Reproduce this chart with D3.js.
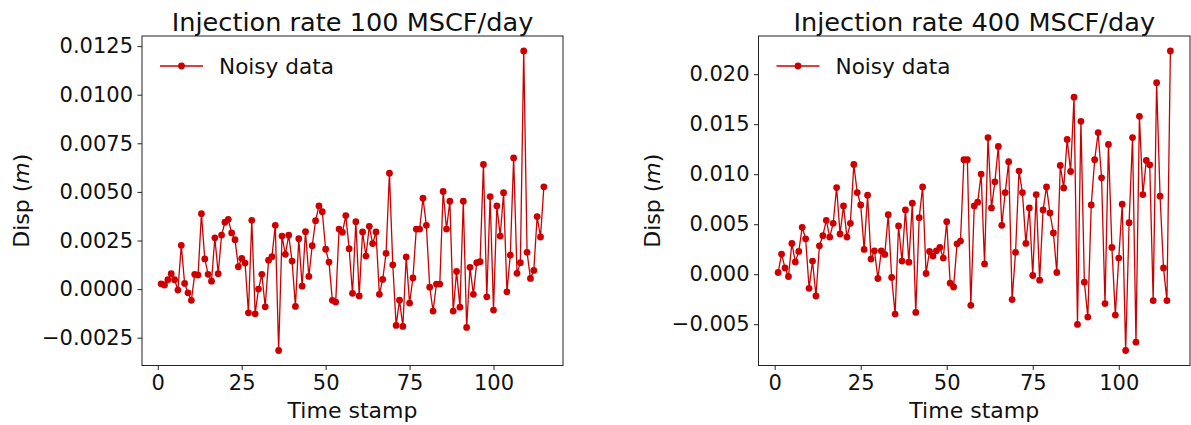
<!DOCTYPE html>
<html>
<head>
<meta charset="utf-8">
<script src="https://cdn.jsdelivr.net/npm/d3@7"></script>
<style>
  body { margin: 0; background: #fff; }
  svg { display: block; font-family: "DejaVu Sans", sans-serif; }
</style>
</head>
<body>
<svg id="chart" width="1191" height="425"></svg>
<script>
// titles
const titles = ["Injection rate 100 MSCF/day", "Injection rate 400 MSCF/day"];

// noisy displacement, 100 MSCF/day (time stamps 1..115)
const disp100 = [
  0.00027, 0.00021, 0.00048, 0.00079, 0.00048, -0.00005, 0.00225, 0.00029, -0.00019, -0.00058,
  0.00076, 0.00072, 0.00388, 0.00155, 0.00076, 0.00041, 0.00264, 0.00079, 0.00278, 0.00344,
  0.00359, 0.00289, 0.00254, 0.00115, 0.00158, 0.00134, -0.00122, 0.00354, -0.00127, 0.00000,
  0.00076, -0.00091, 0.00149, 0.00167, 0.00328, -0.00316, 0.00273, 0.00179, 0.00277, 0.00144,
  -0.00089, 0.00259, 0.00015, 0.00295, 0.00065, 0.00223, 0.00352, 0.00428, 0.00398, 0.00205,
  0.00139, -0.00058, -0.00067, 0.00309, 0.00292, 0.00378, 0.00208, -0.00022, 0.00347, -0.00035,
  0.00294, 0.00170, 0.00323, 0.00234, 0.00294, -0.00027, 0.00050, 0.00184, 0.00596, 0.00125,
  -0.00187, -0.00057, -0.00192, 0.00165, -0.00072, 0.00057, 0.00309, 0.00309, 0.00468, 0.00328,
  0.00010, -0.00113, 0.00026, 0.00026, 0.00502, 0.00309, 0.00452, -0.00113, 0.00091, -0.00093,
  0.00452, -0.00197, 0.00112, -0.00027, 0.00136, 0.00141, 0.00641, -0.00040, 0.00476, -0.00108,
  0.00428, 0.00273, 0.00496, -0.00014, 0.00175, 0.00675, 0.00081, 0.00136, 0.01225, 0.00189,
  0.00055, 0.00096, 0.00373, 0.00268, 0.00526
];

// noisy displacement, 400 MSCF/day (time stamps 1..115)
const disp400 = [
  0.00017, 0.00201, 0.00063, -0.00023, 0.00308, 0.00123, 0.00228, 0.00469, 0.00354, -0.00141,
  0.00131, -0.00218, 0.00284, 0.00385, 0.00539, 0.00371, 0.00509, 0.00866, 0.00402, 0.00683,
  0.00371, 0.00509, 0.01097, 0.00816, 0.00693, 0.00248, 0.00790, 0.00151, 0.00234, -0.00043,
  0.00234, 0.00198, 0.00595, -0.00033, -0.00399, 0.00482, 0.00131, 0.00643, 0.00120, 0.00710,
  -0.00382, 0.00565, 0.00873, 0.00007, 0.00228, 0.00181, 0.00234, 0.00268, 0.00161, 0.00525,
  -0.00090, -0.00128, 0.00304, 0.00331, 0.01145, 0.01145, -0.00311, 0.00683, 0.00720, 0.01001,
  0.00103, 0.01366, 0.00663, 0.00924, 0.01278, 0.00489, 0.00816, 0.01125, -0.00254, 0.00218,
  0.01031, 0.00816, 0.00308, 0.00663, -0.00013, 0.00796, -0.00060, 0.00643, 0.00873, 0.00612,
  0.00412, 0.00017, 0.01087, 0.00863, 0.01348, 0.01027, 0.01770, -0.00502, 0.01529, -0.00080,
  -0.00429, 0.00693, 0.01145, 0.01416, 0.00964, -0.00294, 0.01298, 0.00268, -0.00409, 0.00161,
  0.00700, -0.00763, 0.00515, 0.01366, -0.00680, 0.01579, 0.00796, 0.01138, 0.01094, -0.00264,
  0.01915, 0.00780, 0.00063, -0.00264, 0.02232
];

// tick labels
const xTicks = [0, 25, 50, 75, 100];
const yTicks100 = [-0.0025, 0, 0.0025, 0.005, 0.0075, 0.01, 0.0125];
const yTicks400 = [-0.005, 0, 0.005, 0.01, 0.015, 0.02];

const legendLabel = "Noisy data";
const red = "#cc0000";

const svg = d3.select("#chart");

//pad domain like matplotlib does (5% each side)
function padded(ext) {
  const m = (ext[1] - ext[0]) * 0.05;
  return [ext[0] - m, ext[1] + m];
}

function drawPanel(box, title, values, yTicks, yFmt) {
  const pts = values.map((v, i) => ({ t: i + 1, v: v }));

  const x = d3.scaleLinear()
    .domain(padded(d3.extent(pts, d => d.t)))
    .range([box.left, box.right]);
  const y = d3.scaleLinear()
    .domain(padded(d3.extent(values)))
    .range([box.bottom, box.top]);

  const g = svg.append("g");

  // x axis
  const xAxis = g.append("g")
    .attr("transform", `translate(0, ${box.bottom})`)
    .call(d3.axisBottom(x).tickValues(xTicks).tickSize(4.5).tickPadding(5).tickSizeOuter(0));
  // y axis
  const yAxis = g.append("g")
    .attr("transform", `translate(${box.left}, 0)`)
    .call(d3.axisLeft(y).tickValues(yTicks).tickFormat(d3.format(yFmt)).tickSize(4.5).tickPadding(4.5).tickSizeOuter(0));

  [xAxis, yAxis].forEach(a => {
    a.select(".domain").remove();
    a.selectAll("line").attr("stroke", "#222").attr("stroke-width", 1);
    a.selectAll("text").attr("fill", "#111").style("font-size", "21px")
      .style("font-family", "'DejaVu Sans', sans-serif");
  });
  xAxis.selectAll("text").attr("dy", "0.71em");

  // frame
  g.append("rect")
    .attr("x", box.left).attr("y", box.top)
    .attr("width", box.right - box.left).attr("height", box.bottom - box.top)
    .attr("fill", "none").attr("stroke", "#222").attr("stroke-width", 1);

  const line = d3.line().x(d => x(d.t)).y(d => y(d.v));
  g.append("path")
    .datum(pts)
    .attr("d", line)
    .attr("fill", "none")
    .attr("stroke", red)
    .attr("stroke-width", 1.3)
    .attr("stroke-linejoin", "round");

  g.selectAll("circle.pt")
    .data(pts)
    .enter()
    .append("circle")
    .attr("class", "pt")
    .attr("cx", d => x(d.t))
    .attr("cy", d => y(d.v))
    .attr("r", 3.4)
    .attr("fill", red);

  // title
  g.append("text")
    .attr("x", (box.left + box.right) / 2)
    .attr("y", 31)
    .attr("text-anchor", "middle")
    .style("font-size", "25.6px")
    .attr("fill", "#111")
    .text(title);

  // axis labels
  g.append("text")
    .attr("x", (box.left + box.right) / 2)
    .attr("y", 418)
    .attr("text-anchor", "middle")
    .style("font-size", "22px")
    .attr("fill", "#111")
    .text("Time stamp");

  const yl = g.append("text")
    .attr("transform", `translate(${box.ylabelX}, ${(box.top + box.bottom) / 2}) rotate(-90)`)
    .attr("text-anchor", "middle")
    .style("font-size", "22px")
    .attr("fill", "#111");
  yl.append("tspan").text("Disp (");
  yl.append("tspan").style("font-style", "italic").text("m");
  yl.append("tspan").text(")");

  // legend
  const lx = box.left + 18, ly = 66;
  g.append("line")
    .attr("x1", lx).attr("x2", lx + 43)
    .attr("y1", ly).attr("y2", ly)
    .attr("stroke", red).attr("stroke-width", 1.3);
  g.append("circle")
    .attr("cx", lx + 21.5).attr("cy", ly).attr("r", 3.4).attr("fill", red);
  g.append("text")
    .attr("x", lx + 59)
    .attr("y", ly)
    .attr("dy", "0.35em")
    .style("font-size", "21.6px")
    .attr("fill", "#111")
    .text(legendLabel);
}

drawPanel({ left: 142, right: 563, top: 36, bottom: 365.5, ylabelX: 29 },
  titles[0], disp100, yTicks100, ".4f");
drawPanel({ left: 758.5, right: 1190, top: 36, bottom: 365.5, ylabelX: 660 },
  titles[1], disp400, yTicks400, ".3f");
</script>
</body>
</html>
